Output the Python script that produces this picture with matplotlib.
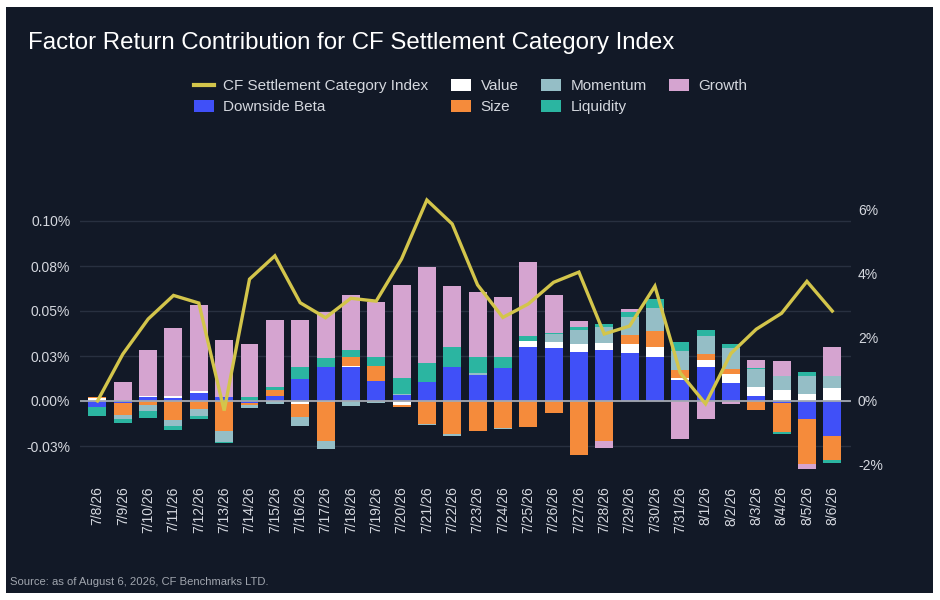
import numpy as np
import matplotlib
matplotlib.use("Agg")
import matplotlib.pyplot as plt
from matplotlib.patches import Rectangle, Patch
from matplotlib.lines import Line2D

plt.rcParams['font.family'] = ['Liberation Sans', 'DejaVu Sans']

# data (left axis in %, index return on right axis in %)
dates = ['7/8/26', '7/9/26', '7/10/26', '7/11/26', '7/12/26', '7/13/26', '7/14/26',
         '7/15/26', '7/16/26', '7/17/26', '7/18/26', '7/19/26', '7/20/26', '7/21/26',
         '7/22/26', '7/23/26', '7/24/26', '7/25/26', '7/26/26', '7/27/26', '7/28/26',
         '7/29/26', '7/30/26', '7/31/26', '8/1/26', '8/2/26', '8/3/26', '8/4/26',
         '8/5/26', '8/6/26']

downside_beta = [-0.0033, -0.0010, 0.0022, 0.0017, 0.0044, 0.0022, -0.0011, 0.0030, 0.0122, 0.0189,
                 0.0189, 0.0111, 0.0033, 0.0106, 0.0189, 0.0144, 0.0183, 0.0300, 0.0294, 0.0272,
                 0.0283, 0.0267, 0.0244, 0.0117, 0.0189, 0.0100, 0.0028, -0.0011, -0.0100, -0.0194]
value = [0.0015, 0.0005, 0.0006, 0.0011, 0.0011, 0.0, 0.0, -0.0005, -0.0017, -0.0005,
         0.0006, 0.0, -0.0022, 0.0, 0.0, 0.0, 0.0, 0.0033, 0.0033, 0.0044,
         0.0039, 0.0050, 0.0056, 0.0011, 0.0039, 0.0050, 0.0050, 0.0061, 0.0039, 0.0072]
size = [0.0006, -0.0065, -0.0022, -0.0106, -0.0044, -0.0167, -0.0011, 0.0031, -0.0072, -0.0217,
        0.0050, 0.0083, -0.0011, -0.0128, -0.0183, -0.0167, -0.0150, -0.0144, -0.0067, -0.0300,
        -0.0222, 0.0050, 0.0089, 0.0044, 0.0033, 0.0028, -0.0050, -0.0161, -0.0250, -0.0133]
momentum = [0.0, -0.0026, -0.0033, -0.0033, -0.0039, -0.0061, -0.0017, -0.0012, -0.0050, -0.0044,
            -0.0028, -0.0011, 0.0006, -0.0006, -0.0011, 0.0011, -0.0006, 0.0, 0.0044, 0.0078,
            0.0089, 0.0100, 0.0128, 0.0106, 0.0100, 0.0117, 0.0100, 0.0078, 0.0100, 0.0067]
liquidity = [-0.0052, -0.0022, -0.0039, -0.0022, -0.0017, -0.0006, 0.0022, 0.0017, 0.0067, 0.0050,
             0.0039, 0.0050, 0.0089, 0.0106, 0.0111, 0.0089, 0.0061, 0.0028, 0.0006, 0.0017,
             0.0017, 0.0028, 0.0050, 0.0050, 0.0033, 0.0022, 0.0006, -0.0011, 0.0022, -0.0017]
growth = [0.0, 0.0100, 0.0256, 0.0378, 0.0478, 0.0317, 0.0294, 0.0372, 0.0261, 0.0256,
          0.0306, 0.0306, 0.0517, 0.0533, 0.0339, 0.0361, 0.0333, 0.0411, 0.0211, 0.0033,
          -0.0039, 0.0017, 0.0, -0.0211, -0.0100, -0.0017, 0.0044, 0.0083, -0.0050, 0.0161]

index_ret = [0.0, 1.47, 2.57, 3.31, 3.07, -0.30, 3.82, 4.55, 3.08, 2.61,
             3.22, 3.13, 4.45, 6.30, 5.55, 3.64, 2.62, 3.04, 3.72, 4.04,
             2.10, 2.35, 3.60, 0.88, -0.09, 1.49, 2.25, 2.75, 3.75, 2.82]

left_ticks = [-0.025, 0.0, 0.025, 0.05, 0.075, 0.10]
left_labels = ['-0.03%', '0.00%', '0.03%', '0.05%', '0.08%', '0.10%']
right_ticks = [-2, 0, 2, 4, 6]
right_labels = ['-2%', '0%', '2%', '4%', '6%']

factors = [('Downside Beta', downside_beta, '#4050f8'),
           ('Value', value, '#ffffff'),
           ('Size', size, '#f58b3b'),
           ('Momentum', momentum, '#95bec6'),
           ('Liquidity', liquidity, '#2bb5a1'),
           ('Growth', growth, '#d5a4d0')]

BG = '#121927'
TXT = '#d4d7de'

fig = plt.figure(figsize=(9.4, 6), dpi=100, facecolor='white')
W, H = 940, 600
fig.patches.append(Rectangle((6 / W, 1 - 593 / H), 927 / W, 586 / H,
                             transform=fig.transFigure, facecolor=BG, edgecolor='none', zorder=-10))

ax = fig.add_axes([80 / W, 1 - 468.5 / H, 771 / W, 283.5 / H])
ax.set_facecolor('none')
x = np.arange(len(dates))

# stack positives up from zero and negatives down from zero
pos_base = np.zeros(len(dates))
neg_base = np.zeros(len(dates))
for name, vals, col in factors:
    v = np.array(vals)
    b = np.where(v >= 0, pos_base, neg_base)
    ax.bar(x, v, bottom=b, width=0.71, color=col, edgecolor='none', zorder=2)
    pos_base += np.where(v >= 0, v, 0)
    neg_base += np.where(v < 0, v, 0)

ax.axhline(0, color='#a3a8b2', lw=1.3, zorder=3)
ax.set_xlim(-0.69, 29.74)
ax.set_ylim(-0.0375, 0.12)
ax.set_yticks(left_ticks)
ax.set_yticklabels(left_labels)
ax.yaxis.grid(True, color='#283040', lw=1)
ax.set_axisbelow(True)
ax.set_xticks(x)
ax.set_xticklabels(dates, rotation=90, va='top')
ax.tick_params(axis='x', length=0, pad=13, labelsize=10, labelcolor=TXT)
ax.tick_params(axis='y', length=0, pad=7, labelsize=10, labelcolor=TXT)
for s in ax.spines.values():
    s.set_visible(False)

ax2 = ax.twinx()
ax2.plot(x, index_ret, color='#d3c54b', lw=2.4, zorder=5, solid_joinstyle='miter')
ax2.set_ylim(-2.116, 6.771)
ax2.set_yticks(right_ticks)
ax2.set_yticklabels(right_labels)
ax2.tick_params(axis='y', length=0, pad=5, labelsize=10, labelcolor=TXT)
for s in ax2.spines.values():
    s.set_visible(False)

fig.text(28 / W, 1 - 43 / H, 'Factor Return Contribution for CF Settlement Category Index',
         color='white', fontsize=17.3, va='center', ha='left')

handles = [Line2D([], [], color='#d3c54b', lw=3)]
handles += [Patch(facecolor=c, edgecolor='none') for _, _, c in factors]
labels = ['CF Settlement Category Index'] + [n for n, _, _ in factors]
leg = fig.legend(handles, labels, ncol=4, loc='upper left',
                 bbox_to_anchor=(183 / W, 1 - 68 / H), frameon=False,
                 fontsize=11, handlelength=1.3, handleheight=0.9, handletextpad=0.65,
                 columnspacing=1.45, labelspacing=0.42, borderpad=0.2)
for t in leg.get_texts():
    t.set_color(TXT)

fig.text(10 / W, 1 - 582 / H, 'Source: as of August 6, 2026, CF Benchmarks LTD.',
         color='#a0a5ae', fontsize=8.1, va='center', ha='left')

fig.savefig('out.png', dpi=100, facecolor='white')
